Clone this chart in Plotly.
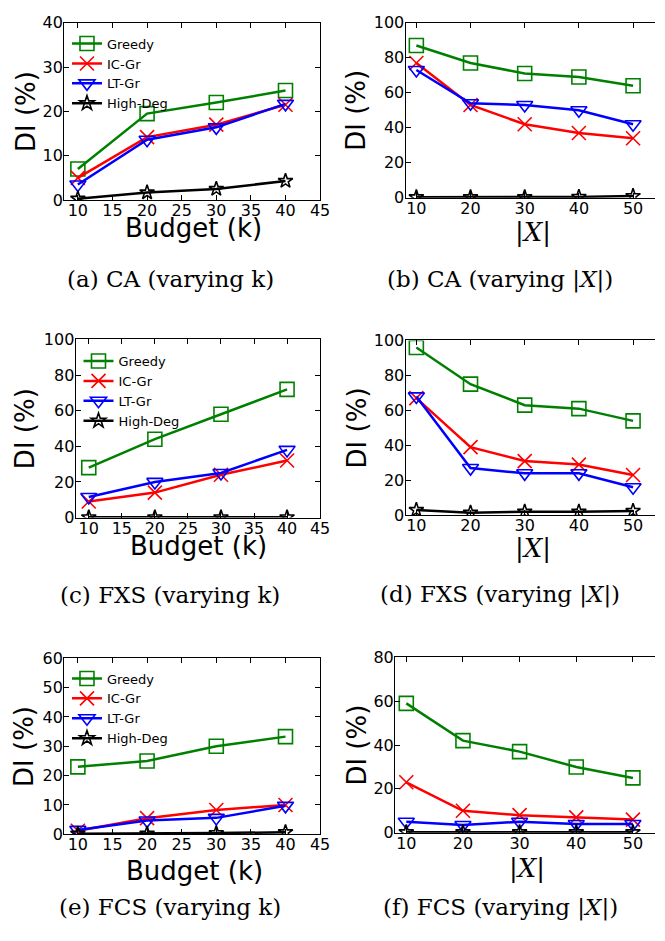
import plotly.graph_objects as go

# ---------------- data ----------------
k_vals = [10, 20, 30, 40]
x_vals = [10, 20, 30, 40, 50]
series_names = ["Greedy", "IC-Gr", "LT-Gr", "High-Deg"]

ca_k_greedy = [7.0, 19.5, 22.0, 24.7]
ca_k_icgr = [5.0, 14.2, 17.0, 21.5]
ca_k_ltgr = [3.5, 13.6, 16.4, 21.7]
ca_k_highdeg = [0.3, 1.7, 2.5, 4.3]

ca_x_greedy = [87, 77, 71, 69, 64]
ca_x_icgr = [77, 53, 42, 37, 34]
ca_x_ltgr = [73, 54, 53, 50, 42]
ca_x_highdeg = [0.3, 0.3, 0.3, 0.5, 1.0]

fxs_k_greedy = [28, 44, 58, 72]
fxs_k_icgr = [9, 14, 24, 32]
fxs_k_ltgr = [11.5, 20, 25, 38]
fxs_k_highdeg = [0.1, 0.1, 0.1, 0.1]

fxs_x_greedy = [96, 75, 63, 61, 54]
fxs_x_icgr = [67, 39, 31, 29, 23]
fxs_x_ltgr = [68, 27, 24, 24, 16]
fxs_x_highdeg = [3.0, 1.5, 2.0, 2.0, 2.5]

fcs_k_greedy = [23, 25, 30, 33.3]
fcs_k_icgr = [1.2, 5.5, 8.3, 10.0]
fcs_k_ltgr = [1.5, 4.7, 5.6, 9.7]
fcs_k_highdeg = [0.2, 0.2, 0.4, 0.7]

fcs_x_greedy = [59, 42, 37, 30, 25]
fcs_x_icgr = [23, 10, 8, 7, 6]
fcs_x_ltgr = [5, 3.5, 5, 4, 4]
fcs_x_highdeg = [0.2, 0.2, 0.2, 0.2, 0.2]

captions = ["(a) CA (varying k)", "(b) CA (varying |<i>X</i>|)",
            "(c) FXS (varying k)", "(d) FXS (varying |<i>X</i>|)",
            "(e) FCS (varying k)", "(f) FCS (varying |<i>X</i>|)"]

# ---------------- layout geometry (pixels) ----------------
W, H = 665, 941
def px_x(p): return min(max(p / W, 0), 1)
def px_y(p): return min(max(1 - p / H, 0), 1)

panels = [
    dict(box=(65, 325, 14, 195), xv=k_vals,
         ys=[ca_k_greedy, ca_k_icgr, ca_k_ltgr, ca_k_highdeg],
         yr=[0, 40], yd=10, xr=[8, 45], xd=5, left=True),
    dict(box=(411.7, 665, 14, 192.7), xv=x_vals,
         ys=[ca_x_greedy, ca_x_icgr, ca_x_ltgr, ca_x_highdeg],
         yr=[0, 100], yd=20, xr=[8, 54.05], xd=10, left=False),
    dict(box=(76.7, 325, 337.3, 519), xv=k_vals,
         ys=[fxs_k_greedy, fxs_k_icgr, fxs_k_ltgr, fxs_k_highdeg],
         yr=[0, 100], yd=20, xr=[8, 45], xd=5, left=True),
    dict(box=(411.7, 665, 338.3, 516.7), xv=x_vals,
         ys=[fxs_x_greedy, fxs_x_icgr, fxs_x_ltgr, fxs_x_highdeg],
         yr=[0, 100], yd=20, xr=[8, 54.05], xd=10, left=False),
    dict(box=(65, 325, 662.7, 842.3), xv=k_vals,
         ys=[fcs_k_greedy, fcs_k_icgr, fcs_k_ltgr, fcs_k_highdeg],
         yr=[0, 60], yd=10, xr=[8, 45], xd=5, left=True),
    dict(box=(401, 665, 661.7, 840.7), xv=x_vals,
         ys=[fcs_x_greedy, fcs_x_icgr, fcs_x_ltgr, fcs_x_highdeg],
         yr=[0, 80], yd=20, xr=[8, 53.9], xd=10, left=False),
]

styles = [
    dict(color="#008000", symbol="square-open", size=14),
    dict(color="#ff0000", symbol="x-thin-open", size=14),
    dict(color="#0000ff", symbol="triangle-down-open", size=14),
    dict(color="#000000", symbol="star-open", size=11),
]

fig = go.Figure()
legend_ids = {0: "legend", 2: "legend2", 4: "legend3"}

for i, p in enumerate(panels):
    sfx = "" if i == 0 else str(i + 1)
    for j, (name, yv) in enumerate(zip(series_names, p["ys"])):
        st = styles[j]
        tr = dict(
            x=p["xv"], y=yv, name=name, mode="lines+markers",
            line=dict(color=st["color"], width=2.5),
            marker=dict(symbol=st["symbol"], size=st["size"],
                        color=st["color"],
                        line=dict(color=st["color"], width=1.6)),
            xaxis="x" + sfx, yaxis="y" + sfx,
            showlegend=p["left"],
        )
        if p["left"]:
            tr["legend"] = legend_ids[i]
        fig.add_trace(go.Scatter(**tr))

    x0, x1, yt, yb = p["box"]
    axis_common = dict(showgrid=False, zeroline=False, showline=True,
                       linecolor="black", linewidth=1, ticks="inside",
                       ticklen=5, tickcolor="black",
                       tickfont=dict(family="DejaVu Sans", size=16, color="black"))
    fig.layout["xaxis" + sfx] = dict(
        domain=[px_x(x0), px_x(x1)], range=p["xr"], dtick=p["xd"], tick0=0,
        anchor="y" + sfx, mirror="allticks", ticklabelstandoff=-4,
        **axis_common)
    fig.layout["yaxis" + sfx] = dict(
        domain=[px_y(yb), px_y(yt)], range=p["yr"], dtick=p["yd"], tick0=0,
        anchor="x" + sfx, mirror="allticks" if p["left"] else False,
        ticklabelstandoff=-3, **axis_common)

# legends
leg_tops = {0: 20, 2: 344, 4: 668}
for i, lid in legend_ids.items():
    x0 = panels[i]["box"][0]
    fig.layout[lid] = dict(
        x=px_x(x0 + 3), y=px_y(leg_tops[i]), xanchor="left", yanchor="top",
        bgcolor="rgba(0,0,0,0)", borderwidth=0,
        font=dict(family="DejaVu Sans", size=13, color="black"),
        tracegroupgap=0, itemwidth=30)

annotations = []
ytitle_x = [27, 362, 25, 362, 25, 362]
for i, p in enumerate(panels):
    x0, x1, yt, yb = p["box"]
    annotations.append(dict(
        text="DI (%)", x=px_x(ytitle_x[i]), y=px_y((yt + yb) / 2),
        xref="paper", yref="paper", showarrow=False, textangle=-90,
        xanchor="center", yanchor="middle",
        font=dict(family="DejaVu Sans", size=26, color="black")))

xtitles = [("Budget (k)", 196, 224), ("|<i>X</i>|", 541, 228),
           ("Budget (k)", 202, 548), ("|<i>X</i>|", 541, 550),
           ("Budget (k)", 197, 880), ("|<i>X</i>|", 535, 877)]
for i, (t, cx, cy) in enumerate(xtitles):
    fam = "DejaVu Sans" if "Budget" in t else "DejaVu Serif"
    annotations.append(dict(
        text=t, x=px_x(cx), y=px_y(cy), xref="paper", yref="paper",
        showarrow=False, xanchor="center", yanchor="middle",
        font=dict(family=fam, size=26, color="black")))

cap_pos = [(173, 276), (508, 276), (173, 598), (508, 598), (173, 917), (508, 917)]
for t, (cx, cy) in zip(captions, cap_pos):
    annotations.append(dict(
        text=t, x=px_x(cx), y=px_y(cy), xref="paper", yref="paper",
        showarrow=False, xanchor="center", yanchor="middle",
        font=dict(family="DejaVu Serif", size=23, color="black")))

fig.update_layout(
    width=W, height=H, margin=dict(l=0, r=0, t=0, b=0),
    paper_bgcolor="white", plot_bgcolor="white",
    annotations=annotations,
)

fig.write_html("out.html")
